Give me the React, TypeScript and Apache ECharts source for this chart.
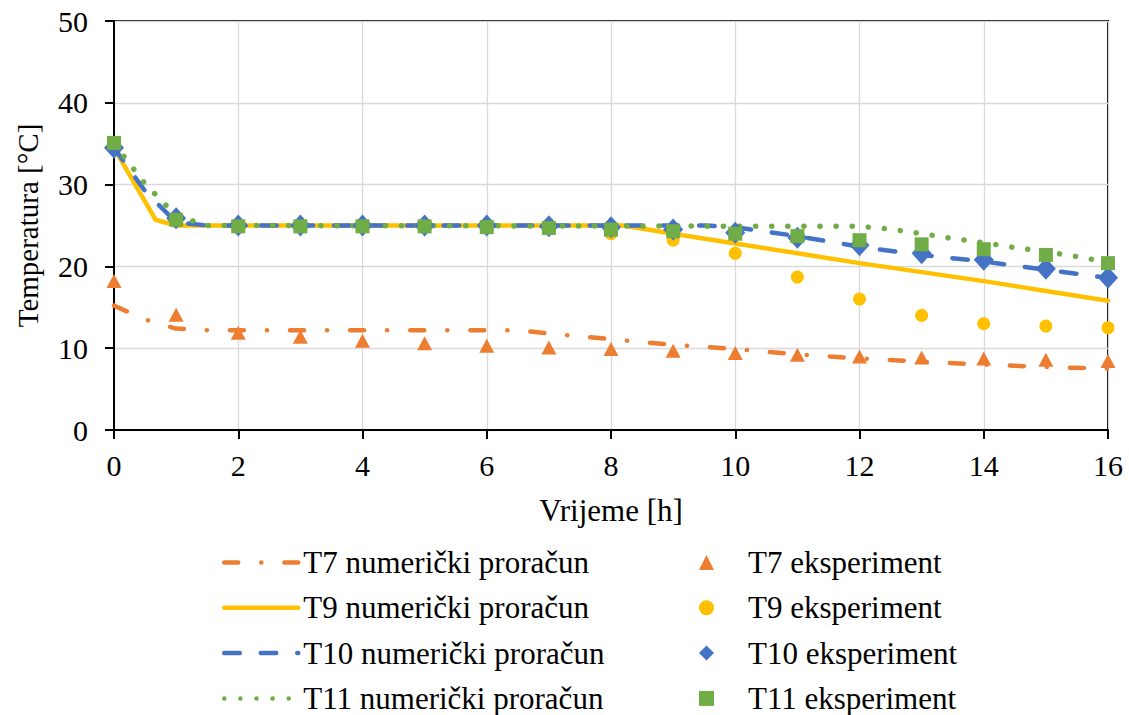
import { useEffect, useRef } from "react";
import * as echarts from "echarts";

// Experimental measurements, hourly
const hours = [0, 1, 2, 3, 4, 5, 6, 7, 8, 9, 10, 11, 12, 13, 14, 15, 16];
const t7Exp = [18.2, 14.1, 11.9, 11.4, 10.9, 10.6, 10.3, 10.1, 9.9, 9.7, 9.4, 9.2, 9.0, 8.85, 8.75, 8.6, 8.45];
const t9Exp = [34.5, 25.5, 25.0, 25.0, 25.0, 25.0, 25.0, 24.8, 24.0, 23.2, 21.6, 18.7, 16.0, 14.0, 13.0, 12.7, 12.5];
const t10Exp = [34.5, 25.9, 25.0, 25.0, 25.0, 25.0, 25.0, 24.9, 24.8, 24.5, 24.1, 23.5, 22.6, 21.6, 20.8, 19.7, 18.6];
const t11Exp = [35.1, 25.7, 24.9, 24.9, 24.9, 24.9, 24.8, 24.7, 24.5, 24.3, 24.0, 23.7, 23.2, 22.7, 22.1, 21.4, 20.4];

// Numerical results (time [h], temperature [°C])
const t7NumT = [0, 0.5, 1, 1.5, 6.5, 7, 8, 9, 10, 11, 12, 13, 14, 15, 16];
const t7NumV = [15.2, 13.5, 12.4, 12.2, 12.2, 11.8, 11.1, 10.4, 9.9, 9.25, 8.75, 8.35, 8.0, 7.7, 7.5];
const t9NumT = [0, 0.67, 1, 8.2, 9, 10, 11, 12, 13, 14, 15, 16];
const t9NumV = [34.5, 25.7, 25.0, 25.0, 24.0, 22.8, 21.6, 20.4, 19.3, 18.2, 17.0, 15.8];
const t10NumT = [0, 0.5, 1, 1.5, 9.5, 10, 11, 12, 13, 14, 15, 16];
const t10NumV = [34.5, 29.2, 25.4, 25.0, 25.0, 24.8, 23.7, 22.4, 21.4, 20.6, 19.6, 18.6];
const t11NumT = [0, 0.5, 1, 1.5, 12, 12.5, 13, 13.5, 14, 14.5, 15, 15.5, 16];
const t11NumV = [35.0, 30.1, 26.2, 25.0, 24.9, 24.55, 24.0, 23.4, 22.9, 22.3, 21.8, 21.2, 20.5];

const xTicks = { min: 0, max: 16, interval: 2 };
const yTicks = { min: 0, max: 50, interval: 10 };

const numNames = [
  "T7 numerički proračun",
  "T9 numerički proračun",
  "T10 numerički proračun",
  "T11 numerički proračun",
];
const expNames = ["T7 eksperiment", "T9 eksperiment", "T10 eksperiment", "T11 eksperiment"];

const ORANGE = "#ED7D31";
const YELLOW = "#FFC000";
const BLUE = "#4472C4";
const GREEN = "#70AD47";
const FONT = "Liberation Serif";

const pairs = (xs: number[], ys: number[]) => xs.map((x, i) => [x, ys[i]]);

export default function App() {
  const ref = useRef<HTMLDivElement>(null);
  useEffect(() => {
    if (!ref.current) return;
    const chart = echarts.init(ref.current, undefined, { renderer: "svg" });
    const lineBase = (name: string, xs: number[], ys: number[], color: string, width: number, type: any) => ({
      name,
      type: "line",
      data: pairs(xs, ys),
      symbol: "none",
      showSymbol: false,
      smooth: false,
      color,
      lineStyle: { color, width, type, cap: "round", join: "round" },
      z: 2,
    });
    const scatterBase = (name: string, ys: number[], color: string, symbol: string, size: any) => ({
      name,
      type: "scatter",
      data: pairs(hours, ys),
      symbol,
      symbolSize: size,
      itemStyle: { color, opacity: 1 },
      color,
      z: 3,
    });
    chart.setOption({
      animation: false,
      backgroundColor: "#fff",
      textStyle: { fontFamily: FONT, color: "#000" },
      grid: {
        show: true,
        borderColor: "#000",
        borderWidth: 2,
        left: 114,
        right: 21,
        top: 21,
        bottom: 285,
        containLabel: false,
      },
      xAxis: {
        type: "value",
        ...xTicks,
        name: "Vrijeme [h]",
        nameLocation: "middle",
        nameGap: 65,
        nameTextStyle: { fontFamily: FONT, fontSize: 31, color: "#000" },
        axisLine: { show: true, lineStyle: { color: "#000", width: 2 } },
        axisTick: { show: true, inside: false, length: 9, lineStyle: { color: "#000", width: 2 } },
        axisLabel: { fontFamily: FONT, fontSize: 30, color: "#000", margin: 20 },
        splitLine: { show: true, lineStyle: { color: "#d9d9d9", width: 1.3 } },
      },
      yAxis: {
        type: "value",
        ...yTicks,
        name: "Temperatura [°C]",
        nameLocation: "middle",
        nameGap: 72,
        nameRotate: 90,
        nameTextStyle: { fontFamily: FONT, fontSize: 29, color: "#000" },
        axisLine: { show: true, lineStyle: { color: "#000", width: 2 } },
        axisTick: { show: true, inside: false, length: 9, lineStyle: { color: "#000", width: 2 } },
        axisLabel: { fontFamily: FONT, fontSize: 30, color: "#000", margin: 26 },
        splitLine: { show: true, lineStyle: { color: "#d9d9d9", width: 1.3 } },
      },
      legend: [
        {
          data: numNames,
          orient: "vertical",
          left: 222,
          top: 547,
          height: 230,
          padding: 0,
          itemWidth: 74,
          itemHeight: 14,
          itemGap: 14.3,
          selectedMode: false,
          itemStyle: { opacity: 0, borderWidth: 0 },
          lineStyle: { width: 4.5, cap: "round" },
          textStyle: { fontFamily: FONT, fontSize: 31, color: "#000" },
        },
        {
          data: expNames,
          orient: "vertical",
          left: 699,
          top: 547,
          height: 230,
          padding: 0,
          itemWidth: 15,
          itemHeight: 15,
          itemGap: 14.3,
          selectedMode: false,
          textStyle: { fontFamily: FONT, fontSize: 31, color: "#000", padding: [0, 0, 0, 29] },
        },
      ],
      series: [
        lineBase(numNames[0], t7NumT, t7NumV, ORANGE, 4.5, [14, 23, 0.1, 23]),
        lineBase(numNames[1], t9NumT, t9NumV, YELLOW, 4.5, "solid"),
        lineBase(numNames[2], t10NumT, t10NumV, BLUE, 4.5, [15.5, 21]),
        lineBase(numNames[3], t11NumT, t11NumV, GREEN, 5.5, [0.1, 16]),
        scatterBase(expNames[0], t7Exp, ORANGE, "triangle", [15, 14]),
        scatterBase(expNames[1], t9Exp, YELLOW, "circle", 13),
        scatterBase(expNames[2], t10Exp, BLUE, "diamond", [20, 22]),
        scatterBase(expNames[3], t11Exp, GREEN, "rect", 14),
      ],
    });
    return () => chart.dispose();
  }, []);
  return (
    <div
      ref={ref}
      style={{ position: "fixed", left: 0, top: 0, width: 1129, height: 715, background: "#fff" }}
    />
  );
}
